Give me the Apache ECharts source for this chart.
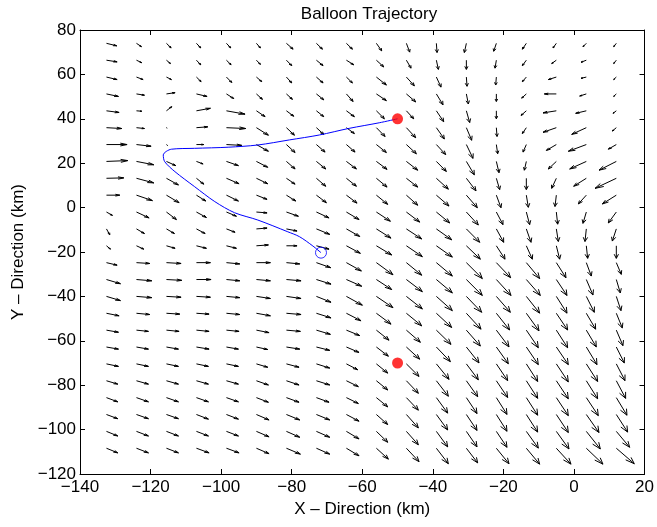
<!DOCTYPE html>
<html><head><meta charset="utf-8">
<script src="https://cdn.jsdelivr.net/npm/echarts@6/dist/echarts.min.js"></script>
<style>html,body{margin:0;padding:0;background:#fff}#c{width:657px;height:527px}</style>
</head><body><div id="c"></div>
<script>
// Grid of wind-field sample points (km)
const xGrid = [-132.5,-124,-115.5,-107,-98.5,-90,-81.5,-73,-64.5,-56,-47.5,-39,-30.5,-22,-13.5,-5,3.5,12];
const yGrid = [74,66.4,58.8,51.2,43.6,36,28.4,20.8,13.2,5.6,-2,-9.6,-17.2,-24.8,-32.4,-40,-47.6,-55.2,-62.8,-70.4,-78,-85.6,-93.2,-100.8,-108.4];
// Wind components (east U, north V), one row per yGrid entry
const U = [
[15.5,7.5,7,6.5,6.5,6,10,9,9,8,5,1,-3,-4,-6,-5,-5,-4],
[16,8,6,6.5,7,6,8,10,11,11,7,3,0,-2,-6,-7,-8,-4],
[16,10,7.5,7,8,8,8,10,9,15,12,7,1,-1,-6,-12,-8,-4],
[18,12,13,16,11,9,9,11,10,15,14,10,3,0,-7,-18,-10,-4],
[19,8,8,21,28,13,11,11,12,12,11,11,5,0,-8,-20,-16,-5],
[23,12,1,17,29,18,12,11,12,13,14,12,8,1,-6,-20,-22,-6],
[31,22,1.5,11,23,18,13,13,13,15,15,14,10,2,-5,-15,-27,-12],
[32,26,14,10,18,17,13,14,15,16,17,15,12,4,-3,-12,-25,-26],
[26,26,18,11,19,17,13,14,15,16,17,18,14.5,5,0,-7,-19,-32],
[20,24,19,14,18,16,14,15,16,17,17,19,16.5,7,3,-2,-12,-21],
[9,19,15,15,15,16,18,19,19,21,20,20,18,10,5,2,-5,-12],
[5,12,12,13,13,16,16,20,20,22,23,23,20,11,7,3,-2,-6],
[6,11,13,15,15,18,16,19,21,23,24,24,21,13,9,5,2,0],
[16,20,22,21,20,21,20,21.5,22.5,25,23,24,24,21.5,20,14.5,7.5,7.5],
[21,23,23,22,20,21,22,22,23,23,24,24,24,22,21,16,10,6],
[21,23,22,21,20,21,22,22,24,25,24,24,23,21,20,16,12,7],
[19,20,20,19,20,21,22,22,22,22,23,23,22,20,19,17,14,9],
[18,18,19,19,19,19,21,21,20,19,21,22,21,19,18,17,15,10],
[18,18,18,19,18,17,20,20,19,18,20,21,19,18,18,18,16,12],
[18,18,18,18,18,17,19,20,17,17,19,19,18,17,17,18,17,13],
[17,18,18,18,18,18,19,20,18,17,18,18,17,17,17,18,17,14],
[17,18,18,18,18,18,19,19,18,17,18,17,16,16,17,18,18,16],
[17,18,18,18,18,19,20,20,19,17,18,17,16,16,17,18,19,17],
[17,18,18,18,18,19,20,20,19,17,18,17,16,16,18,19,21,20],
[17,18,18,19,19,19,21,20,19,18,19,18,17,19,20,22,25,27]
];
const V = [
[-6,-8,-11,-11,-11,-11,-14,-14,-14,-18,-21,-22,-22,-19,-14,-11,-8,-8],
[-4,-6,-8,-11,-11,-10,-13,-13,-11,-16,-19,-22,-22,-19,-13,-8,-5,-8],
[-6,-6,-6,-11,-13,-11,-14,-14,-14,-19,-21,-24,-22,-19,-11,-6,-3,-6],
[-6,-3,3,-6,-11,-13,-13,-14,-18,-16,-19,-26,-24,-18,-10,0,-5,-6],
[-4,-1,10,6,-8,-14,-13,-14,-14,-19,-19,-26,-28,-19,-11,-5,-6,-6],
[-2,-2,-1,2,-2,-18,-18,-16,-14,-21,-24,-27,-30,-21,-14,-11,-16,-8],
[0,-4,-2,0,-2,-16,-19,-18,-18,-19,-22,-24,-33,-22,-18,-14,-16,-11],
[2,-8,-10,-6,-10,-14,-18,-18,-18,-19,-21,-24,-32,-27,-21,-18,-18,-21],
[1,-11,-16,-14,-13,-13,-14,-19,-19,-21,-21,-26,-30,-27,-27,-24,-19,-24],
[0,-13,-18,-14,-14,-10,-14,-18,-19,-22,-24,-26,-30,-30,-29,-27,-21,-21],
[-8,-14,-18,-13,-10,-2,-10,-14,-18,-22,-24,-26,-31,-30,-30,-29,-27,-26],
[-14,-11,-11,-11,-8,2,-5,-13,-18,-22,-24,-26,-32,-32,-32,-30,-30,-29],
[-8,-8,-6,-6,-6,2,0,-8,-18,-22,-26,-27,-32,-32,-32,-32,-30,-30],
[-6,-2,-2,0,-3,0,-3,-12,-20,-29,-30,-32,-38,-36,-38,-36,-32,-28],
[-10,-3,-2,0,-3,-3,-3,-11,-16,-24,-29,-32,-38,-38,-38,-38,-37,-32],
[-10,-3,-2,-2,-3,-5,-5,-14,-21,-27,-30,-34,-38,-38,-40,-40,-38,-34],
[-6,-3,-2,-2,-3,-6,-3,-11,-18,-26,-30,-34,-38,-40,-42,-40,-38,-35],
[-5,-3,-3,-3,-3,-6,-3,-10,-13,-24,-29,-34,-38,-40,-42,-42,-40,-37],
[-5,-5,-5,-5,-5,-6,-5,-8,-13,-22,-29,-35,-38,-40,-42,-42,-42,-38],
[-6,-6,-6,-6,-6,-8,-8,-10,-14,-22,-30,-37,-38,-40,-42,-43,-42,-40],
[-8,-8,-8,-8,-8,-10,-10,-10,-14,-22,-30,-37,-38,-40,-42,-43,-43,-42],
[-10,-10,-10,-10,-10,-11,-11,-11,-14,-22,-30,-37,-38,-40,-42,-43,-43,-42],
[-10,-10,-10,-11,-11,-13,-13,-13,-16,-24,-32,-37,-38,-40,-42,-43,-43,-42],
[-11,-11,-11,-11,-11,-13,-14,-14,-18,-26,-32,-37,-37,-38,-40,-42,-42,-38],
[-11,-11,-11,-11,-11,-13,-14,-14,-18,-26,-32,-37,-35,-37,-38,-38,-38,-37]
];
const arrowScale = 0.1886; // km per wind unit (quiver autoscale)
// Balloon trajectory (km)
const trackX = [-50,-55.2,-63.7,-72.2,-80.6,-89.6,-98,-107.5,-114.1,-116.4,-116,-113.1,-107.5,-101.8,-96.2,-89.6,-81.1,-77.8,-74,-71.7];
const trackY = [40,38.2,35.7,32.7,30.5,28.2,27.2,26.7,26.3,23.7,20.7,16.2,9.4,2.7,-2.3,-5.6,-10.9,-13.1,-17.3,-20.3];
const sitesX = [-50,-50];
const sitesY = [40,-70];
const endX = [-71.7];
const endY = [-20.3];
const xTicks = {min:-140,max:20,step:20};
const yTicks = {min:-120,max:80,step:20};

const quiverData = [];
for (let r = 0; r < yGrid.length; r++)
  for (let c = 0; c < xGrid.length; c++)
    quiverData.push([xGrid[c], yGrid[r], U[r][c], V[r][c]]);

const FONT = 'Liberation Sans, Arial, Helvetica, sans-serif';
const FS = 17;
const minus = v => String(v).replace('-', '\u2212');
const tickStyle = {show:true, inside:true, length:5, lineStyle:{color:'#000', width:1}};
const lineStyle = {show:true, onZero:false, lineStyle:{color:'#000', width:1}};

const chart = echarts.init(document.getElementById('c'), null, {renderer:'canvas'});
chart.setOption({
  animation:false,
  backgroundColor:'#fff',
  title:{text:'Balloon Trajectory', left:364, textAlign:'center', top:1,
    textStyle:{fontFamily:FONT, fontSize:FS, fontWeight:'normal', color:'#000'}},
  grid:{left:80, right:11, top:30, bottom:53},
  xAxis:[
    {type:'value', min:xTicks.min, max:xTicks.max, interval:xTicks.step, position:'bottom',
     axisLine:lineStyle, axisTick:tickStyle, splitLine:{show:false},
     axisLabel:{fontFamily:FONT, fontSize:FS, color:'#000', margin:5, formatter:minus},
     name:'X \u2013 Direction (km)', nameLocation:'middle', nameGap:24,
     nameTextStyle:{fontFamily:FONT, fontSize:FS, color:'#000'}},
    {type:'value', min:xTicks.min, max:xTicks.max, interval:xTicks.step, position:'top',
     axisLine:lineStyle, axisTick:tickStyle, splitLine:{show:false}, axisLabel:{show:false}}
  ],
  yAxis:[
    {type:'value', min:yTicks.min, max:yTicks.max, interval:yTicks.step, position:'left',
     axisLine:lineStyle, axisTick:tickStyle, splitLine:{show:false},
     axisLabel:{fontFamily:FONT, fontSize:FS, color:'#000', margin:4, formatter:minus},
     name:'Y \u2013 Direction (km)', nameLocation:'middle', nameGap:51,
     nameTextStyle:{fontFamily:FONT, fontSize:FS, color:'#000'}},
    {type:'value', min:yTicks.min, max:yTicks.max, interval:yTicks.step, position:'right',
     axisLine:lineStyle, axisTick:tickStyle, splitLine:{show:false}, axisLabel:{show:false}}
  ],
  series:[
    {type:'custom', data:quiverData, dimensions:['x','y','u','v'], encode:{x:0,y:1},
     clip:true, silent:true,
     renderItem:function(params, api){
       const x=api.value(0), y=api.value(1);
       const u=api.value(2)*arrowScale, v=api.value(3)*arrowScale;
       const a=0.33, b=0.33;
       const p0=api.coord([x,y]), p1=api.coord([x+u,y+v]);
       const h1=api.coord([x+u-a*(u+b*v), y+v-a*(v-b*u)]);
       const h2=api.coord([x+u-a*(u-b*v), y+v-a*(v+b*u)]);
       const st={stroke:'#000', lineWidth:1, fill:null};
       return {type:'group', children:[
         {type:'polyline', shape:{points:[p0,p1]}, style:st},
         {type:'polyline', shape:{points:[h1,p1,h2]}, style:st}
       ]};
     }},
    {type:'line', data:trackX.map((x,i)=>[x,trackY[i]]), showSymbol:false, smooth:0.3,
     lineStyle:{color:'#0000ff', width:1}, silent:true, z:3},
    {type:'scatter', data:endX.map((x,i)=>[x,endY[i]]), symbol:'circle', symbolSize:11,
     itemStyle:{color:'rgba(0,0,0,0)', borderColor:'#0000ff', borderWidth:1}, silent:true, z:4},
    {type:'scatter', data:sitesX.map((x,i)=>[x,sitesY[i]]), symbol:'circle', symbolSize:11,
     itemStyle:{color:'#ff0000'}, silent:true, z:5}
  ]
});
</script></body></html>
